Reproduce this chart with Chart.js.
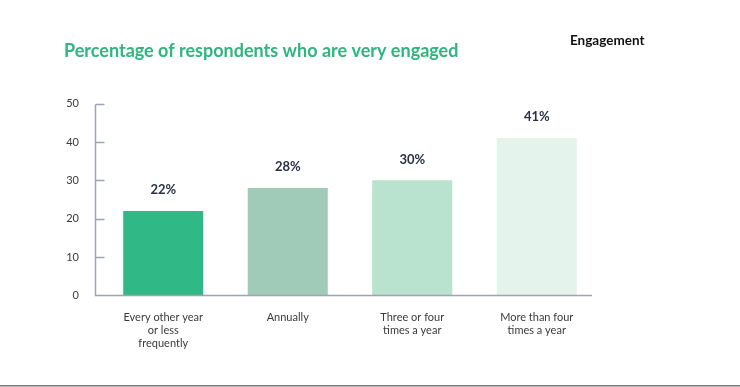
<!DOCTYPE html>
<html>
<head>
<meta charset="utf-8">
<script src="https://cdn.jsdelivr.net/npm/chart.js@4/dist/chart.umd.min.js"></script>
<style>
  html, body { margin: 0; padding: 0; background: #fff; }
  #wrap { width: 740px; height: 387px; position: relative; }
</style>
</head>
<body>
<div id="wrap"><canvas id="chart"></canvas></div>
<script>
// data
const categories = [
  ['Every other year', 'or less', 'frequently'],
  'Annually',
  ['Three or four', 'times a year'],
  ['More than four', 'times a year']
];
const veryEngaged = [22, 28, 30, 41];
const valueLabels = ['22%', '28%', '30%', '41%'];
const yTicks = [0, 10, 20, 30, 40, 50];

const barColors = ['#30b886', '#9fcbb8', '#b9e2cf', '#e4f3ec'];
const axisColor = '#9ea3b5';
const fontFamily = 'Lato, "Open Sans", sans-serif';

// axis lines sit a little left of the first bar slot in the original
const axisShift = 6;

// axis lines, inner y ticks, value labels, side label and bottom rule
const extras = {
  id: 'extras',
  afterDraw(chart) {
    const ctx = chart.ctx;
    const y = chart.scales.y;
    const area = chart.chartArea;
    const ax = Math.round(area.left - axisShift) + 0.5;
    const top = Math.round(y.getPixelForValue(50)) + 0.5;
    const base = Math.round(area.bottom) + 0.5;
    ctx.save();

    ctx.strokeStyle = axisColor;
    ctx.lineWidth = 1.5;
    ctx.beginPath();
    ctx.moveTo(ax, top);
    ctx.lineTo(ax, base);
    ctx.lineTo(area.right - axisShift - 1, base);
    ctx.stroke();

    yTicks.forEach(v => {
      if (v === 0) return;
      const py = Math.round(y.getPixelForValue(v)) + 0.5;
      ctx.beginPath();
      ctx.moveTo(ax, py);
      ctx.lineTo(ax + 9, py);
      ctx.stroke();
    });

    // bar labels
    ctx.fillStyle = '#2b2f48';
    ctx.font = 'bold 13px ' + fontFamily;
    ctx.textAlign = 'center';
    ctx.textBaseline = 'middle';
    chart.getDatasetMeta(0).data.forEach((bar, i) => {
      ctx.fillText(valueLabels[i], bar.x, bar.y - 21);
    });

    // top right label
    ctx.fillStyle = '#111';
    ctx.font = 'bold 13.5px ' + fontFamily;
    ctx.textAlign = 'left';
    ctx.fillText('Engagement', 570, 41);

    // rule at the bottom
    ctx.fillStyle = '#777';
    ctx.fillRect(0, 385, chart.width, 1.5);
    ctx.restore();
  }
};

new Chart(document.getElementById('chart'), {
  type: 'bar',
  data: {
    labels: categories,
    datasets: [{
      data: veryEngaged,
      backgroundColor: barColors,
      categoryPercentage: 1,
      barPercentage: 0.643
    }]
  },
  options: {
    responsive: true,
    maintainAspectRatio: false,
    animation: false,
    events: [],
    layout: { padding: { left: 64, right: 141, top: 0, bottom: 22 } },
    plugins: {
      legend: { display: false },
      tooltip: { enabled: false },
      title: {
        display: true,
        text: 'Percentage of respondents who are very engaged',
        align: 'start',
        color: '#2fb57f',
        font: { family: fontFamily, size: 18, weight: 'bold' },
        padding: { top: 40, bottom: 42 }
      }
    },
    scales: {
      x: {
        grid: { display: false, drawTicks: false },
        border: { display: false },
        ticks: {
          color: '#3a3a3a',
          font: { family: fontFamily, size: 11, lineHeight: 1.2 },
          padding: 15,
          maxRotation: 0
        }
      },
      y: {
        min: 0,
        max: 50,
        afterBuildTicks(axis) {
          axis.ticks = yTicks.map(v => ({ value: v }));
        },
        afterFit(axis) {
          axis.width = 37;
        },
        grid: { display: false, drawTicks: false },
        border: { display: false },
        ticks: {
          color: '#3a3a3a',
          font: { family: fontFamily, size: 11 },
          padding: 22
        }
      }
    }
  },
  plugins: [extras]
});
</script>
</body>
</html>
